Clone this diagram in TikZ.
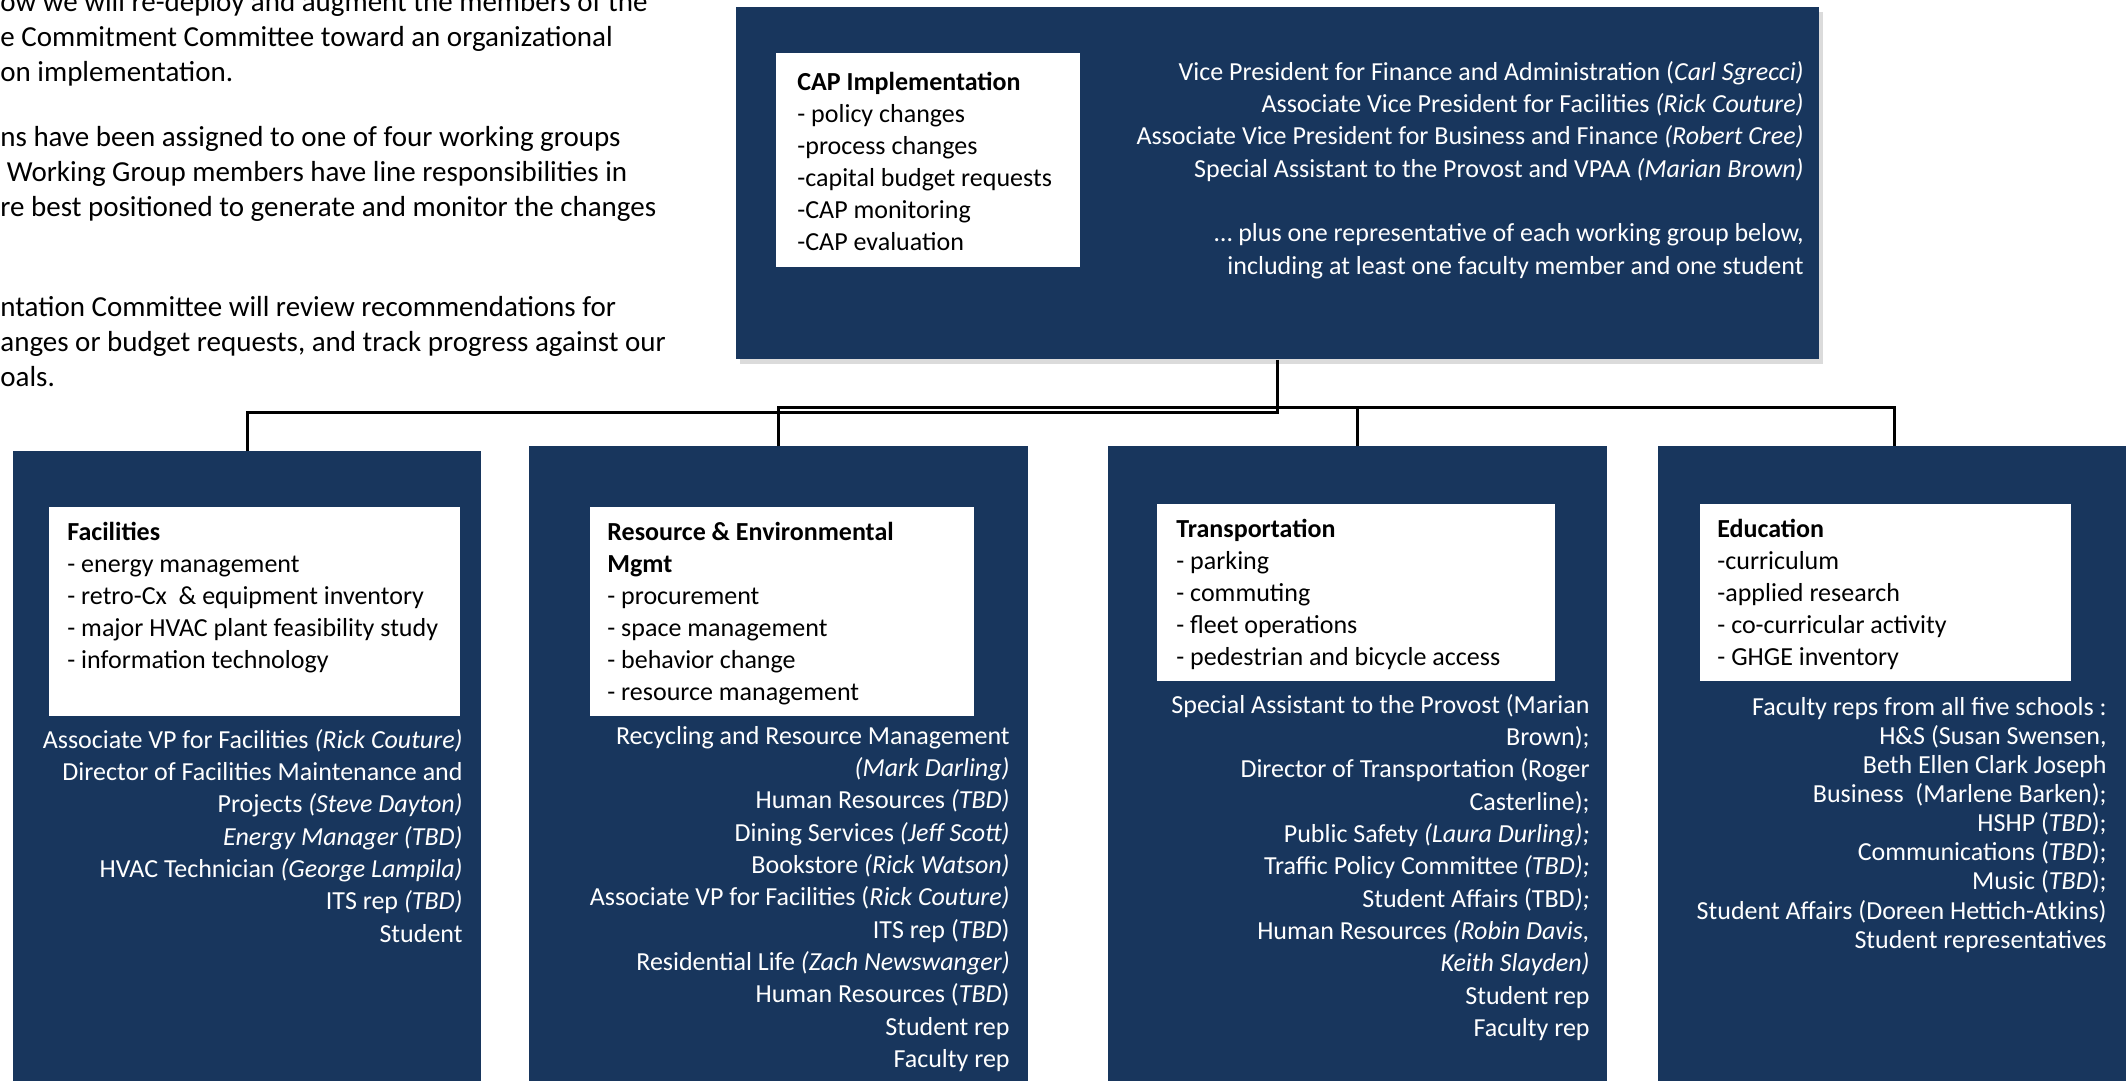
\documentclass[tikz,border=0pt]{standalone}
\usepackage{fontspec}
\setmainfont{Carlito}
\usetikzlibrary{shadows}
\definecolor{navy}{RGB}{24,54,93}
\newcommand\mysz{\fontsize{13}{16.15}\selectfont}
\newcommand\myszb{\fontsize{13}{16}\selectfont}
\newcommand\myszc{\fontsize{13}{14.55}\selectfont}
\newcommand\myszp{\fontsize{14.5}{17.5}\selectfont}
\begin{document}
\begin{tikzpicture}[x=0.5pt,y=-0.5pt,
  darkbox/.style={draw=none,fill=navy,inner sep=0pt,anchor=north west},
  whitebox/.style={draw=none,fill=white,inner sep=0pt,anchor=north west},
  wtext/.style={inner sep=0pt,anchor=north west,align=left,text=black},
  mtext/.style={inner sep=0pt,anchor=north east,align=right,text=white},
  ptext/.style={inner sep=0pt,anchor=north west,align=left,text=black,font=\myszp},
  conn/.style={line width=1.5pt,draw=black},
]
\useasboundingbox (0,0) rectangle (2126,1081);
\clip (0,0) rectangle (2126,1081);
\fill[white] (0,0) rectangle (2126,1081);

% left paragraph (cut by the page edge)
\node[ptext] (p1) at (0,-13.5) {\strut ow we will re-deploy and augment the members of the\\e Commitment Committee toward an organizational\\on implementation.};
\node[ptext] (p2) at (0,121.5) {\strut ns have been assigned to one of four working groups\\\ Working Group members have line responsibilities in\\re best positioned to generate and monitor the changes};
\node[ptext] (p3) at (0,291.5) {\strut ntation Committee will review recommendations for\\anges or budget requests, and track progress against our\\oals.};

% top box
\node[darkbox, minimum width=541.5pt, minimum height=176pt,
      drop shadow={shadow xshift=2pt, shadow yshift=-2.5pt, fill=black!40, opacity=0.35}] (top) at (736,7) {};
\node[whitebox, minimum width=152pt, minimum height=107pt] (capbox) at (776,53) {};
\node[wtext, font=\myszb] (captxt) at (797,67.6) {\strut\textbf{CAP Implementation}\\- policy changes\\-process changes\\-capital budget requests\\-CAP monitoring\\-CAP evaluation};
\node[mtext, font=\mysz] (toptxt) at (1804,57.3) {\strut Vice President for Finance and Administration (\textit{Carl Sgrecci)}\\Associate Vice President for Facilities \textit{(Rick Couture)}\\Associate Vice President for Business and Finance \textit{(Robert Cree)}\\Special Assistant to the Provost and VPAA \textit{(Marian Brown)}\\[16.15pt]… plus one representative of each working group below,\\including at least one faculty member and one student};

% bottom boxes
\node[darkbox, minimum width=234pt, minimum height=322pt] (b1) at (13,451) {};
\node[darkbox, minimum width=249.5pt, minimum height=324.5pt] (b2) at (529,446) {};
\node[darkbox, minimum width=249.5pt, minimum height=324.5pt] (b3) at (1108,446) {};
\node[darkbox, minimum width=236pt, minimum height=324.5pt] (b4) at (1658,446) {};

% connectors
\coordinate (busA) at (0,412);
\coordinate (busB) at (0,407);
\draw[conn] (top.south) -- (top.south |- busA) -| (b1.north);
\draw[conn] (b2.north) -- (b2.north |- busB) -| (b4.north);
\draw[conn] (b3.north) -- (b3.north |- busB);

% Facilities
\node[whitebox, minimum width=205.5pt, minimum height=104.5pt] (w1) at (49,507) {};
\node[wtext, font=\myszb] (w1txt) at (67,517.6) {\strut\textbf{Facilities}\\- energy management\\- retro-Cx\ \ \& equipment inventory\\- major HVAC plant feasibility study\\- information technology};
\node[mtext, font=\mysz] (m1) at (463,725.3) {\strut Associate VP for Facilities \textit{(Rick Couture)}\\Director of Facilities Maintenance and\\Projects \textit{(Steve Dayton)}\\\textit{Energy Manager (TBD)}\\HVAC Technician \textit{(George Lampila)}\\ITS rep \textit{(TBD)}\\Student};

% Resource & Environmental Mgmt
\node[whitebox, minimum width=192pt, minimum height=104.5pt] (w2) at (590,507) {};
\node[wtext, font=\myszb] (w2txt) at (607,517.6) {\strut\textbf{Resource \& Environmental}\\\textbf{Mgmt}\\- procurement\\- space management\\- behavior change\\- resource management};
\node[mtext, font=\mysz] (m2) at (1010,721.3) {\strut Recycling and Resource Management\\\textit{(Mark Darling)}\\Human Resources \textit{(TBD)}\\Dining Services \textit{(Jeff Scott)}\\Bookstore \textit{(Rick Watson)}\\Associate VP for Facilities (\textit{Rick Couture)}\\ITS rep (\textit{TBD})\\Residential Life \textit{(Zach Newswanger)}\\Human Resources (\textit{TBD})\\Student rep\\Faculty rep};

% Transportation
\node[whitebox, minimum width=199pt, minimum height=88.5pt] (w3) at (1157,504) {};
\node[wtext, font=\myszb] (w3txt) at (1176,514.6) {\strut\textbf{Transportation}\\- parking\\- commuting\\- fleet operations\\- pedestrian and bicycle access};
\node[mtext, font=\mysz] (m3) at (1590,690.3) {\strut Special Assistant to the Provost (Marian\\Brown);\\Director of Transportation (Roger\\Casterline);\\Public Safety \textit{(Laura Durling);}\\Traffic Policy Committee \textit{(TBD);}\\Student Affairs (TBD\textit{);}\\Human Resources \textit{(Robin Davis,}\\\textit{Keith Slayden)}\\Student rep\\Faculty rep};

% Education
\node[whitebox, minimum width=185.5pt, minimum height=88.5pt] (w4) at (1700,504) {};
\node[wtext, font=\myszb] (w4txt) at (1717,514.6) {\strut\textbf{Education}\\-curriculum\\-applied research\\- co-curricular activity\\- GHGE inventory};
\node[mtext, font=\myszc] (m4) at (2107,694.6) {\strut Faculty reps from all five schools :\\H\&S (Susan Swensen,\\Beth Ellen Clark Joseph\\Business\ \ (Marlene Barken);\\HSHP (\textit{TBD});\\Communications (\textit{TBD});\\Music (\textit{TBD});\\Student Affairs (Doreen Hettich-Atkins)\\Student representatives};
\end{tikzpicture}
\end{document}
